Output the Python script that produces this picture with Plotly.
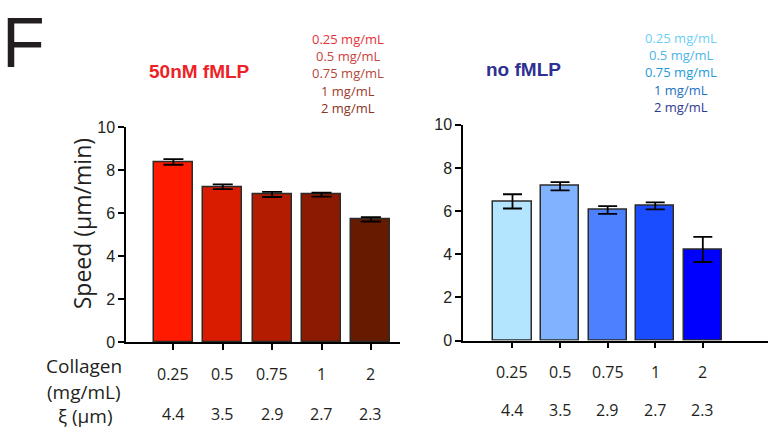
import plotly.graph_objects as go

# Collagen concentrations (mg/mL) and matching pore sizes (µm)
collagen = ["0.25", "0.5", "0.75", "1", "2"]
pore_size = ["4.4", "3.5", "2.9", "2.7", "2.3"]

# Migration speed (µm/min), mean and error
fmlp_speed = [8.38, 7.23, 6.87, 6.86, 5.71]
fmlp_err = [0.13, 0.11, 0.12, 0.09, 0.10]
nofmlp_speed = [6.45, 7.15, 6.05, 6.24, 4.22]
nofmlp_err = [0.33, 0.19, 0.18, 0.16, 0.58]

fmlp_bar_colors = ["#ff1a00", "#d91c00", "#b31c00", "#8c1a00", "#661a00"]
nofmlp_bar_colors = ["#b3e5ff", "#80b3ff", "#4d80ff", "#1a4dff", "#0000ff"]
fmlp_text_colors = ["#e63238", "#c9443c", "#b2473a", "#9e3b2c", "#8c3424"]
nofmlp_text_colors = ["#6dcff6", "#4db4e8", "#1e9bd7", "#1c70c2", "#2e3a8e"]

W, H = 770, 437
xpos = list(range(len(collagen)))

fig = go.Figure()

fig.add_trace(go.Bar(
    x=xpos, y=fmlp_speed, width=0.79,
    marker=dict(color=fmlp_bar_colors, line=dict(color="#2b2b2b", width=1.5)),
    error_y=dict(type="data", array=fmlp_err, visible=True,
                 color="#000000", thickness=1.8, width=10),
    xaxis="x", yaxis="y", showlegend=False,
))
fig.add_trace(go.Bar(
    x=xpos, y=nofmlp_speed, width=0.8,
    marker=dict(color=nofmlp_bar_colors, line=dict(color="#2b2b2b", width=1.5)),
    error_y=dict(type="data", array=nofmlp_err, visible=True,
                 color="#000000", thickness=1.8, width=9.5),
    xaxis="x2", yaxis="y2", showlegend=False,
))

axis_common = dict(showgrid=False, zeroline=False, showline=True,
                   linecolor="#000000", linewidth=1.5,
                   ticks="outside", ticklen=6, tickwidth=1.5, tickcolor="#000000")
yaxis_common = dict(axis_common, range=[0, 10], tickvals=[0, 2, 4, 6, 8, 10],
                    tickfont=dict(family="Liberation Sans, Arial", size=16, color="#231f20"))

fig.update_layout(
    width=W, height=H, autosize=False,
    margin=dict(l=0, r=0, t=0, b=0),
    paper_bgcolor="white", plot_bgcolor="white",
    bargap=0,
    xaxis=dict(axis_common, domain=[126 / W, 400 / W], range=[-0.96, 4.59],
               tickvals=xpos, showticklabels=False, anchor="y"),
    yaxis=dict(yaxis_common, domain=[1 - 347.5 / H, 1 - 124 / H], anchor="x"),
    xaxis2=dict(axis_common, domain=[463 / W, 768 / W], range=[-1.04, 5.37],
                tickvals=xpos, showticklabels=False, anchor="y2"),
    yaxis2=dict(yaxis_common, domain=[1 - 346 / H, 1 - 121.5 / H], anchor="x2"),
)


def note(x, y, text, font, xref="paper", **kw):
    """Centred text at pixel position (x, y); x may be a data value on xref."""
    xv = x / W if xref == "paper" else x
    d = dict(x=xv, y=1 - y / H, xref=xref, yref="paper", text=text,
             showarrow=False, font=font, xanchor="center", yanchor="middle")
    d.update(kw)
    return d


label_font = dict(family="Open Sans", size=16, color="#231f20")
ann = []

# Concentration and pore-size rows under each panel
for xa, row1, row2 in (("x", 381, 422), ("x2", 379, 418)):
    for i in xpos:
        ann.append(note(i, row1, collagen[i], label_font, xref=xa))
        ann.append(note(i, row2, pore_size[i], label_font, xref=xa))

# Row headers
row_font = dict(family="Open Sans", size=19, color="#231f20")
ann.append(note(84, 372, "Collagen", row_font))
ann.append(note(84, 400, "(mg/mL)", row_font))
ann.append(note(85, 424, "ξ (µm)", row_font))

# Y-axis title
ann.append(note(82, 225, "Speed (µm/min)",
                dict(family="Open Sans", size=23, color="#231f20"), textangle=-90))

# Panel letter
ann.append(note(23, 36, "F",
                dict(family="Liberation Sans, Arial", size=70, color="#231f20")))

# Condition titles
ann.append(note(200, 66, "<b>50nM fMLP</b>",
                dict(family="Liberation Sans, Arial", size=19, color="#ed2227")))
ann.append(note(523, 64, "<b>no fMLP</b>",
                dict(family="Liberation Sans, Arial", size=19, color="#2e3192")))

# Colour keys for the concentrations
left_rows = [32, 50, 68, 86, 104]
right_rows = [31, 49, 67, 85, 103]
for i, c in enumerate(collagen):
    ann.append(note(348, left_rows[i], f"{c} mg/mL",
                    dict(family="Open Sans", size=13, color=fmlp_text_colors[i])))
    ann.append(note(681, right_rows[i], f"{c} mg/mL",
                    dict(family="Open Sans", size=13, color=nofmlp_text_colors[i])))

fig.update_layout(annotations=ann)
fig.write_html("out.html")
